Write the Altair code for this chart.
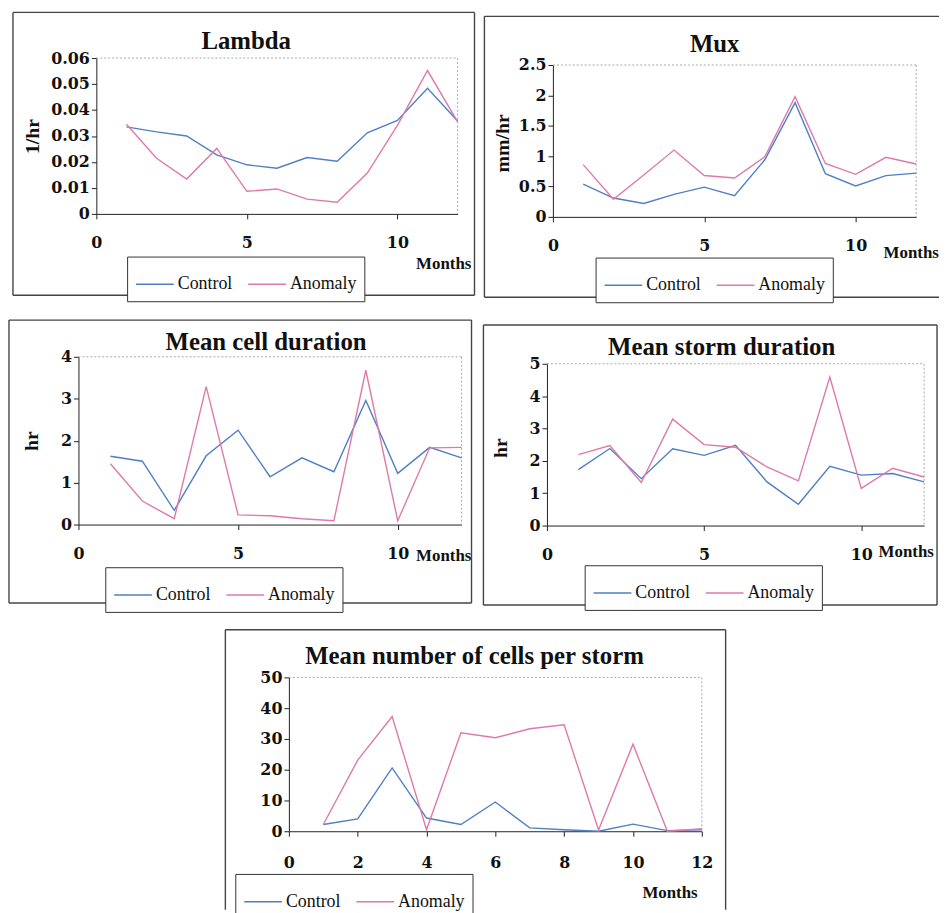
import altair as alt
import pandas as pd

# ---------------- data ----------------
months = list(range(1, 13))
series_names = ["Control", "Anomaly"]

lambda_control = [0.0335, 0.0316, 0.0300, 0.0227, 0.0189, 0.0176, 0.0217, 0.0203, 0.0312, 0.0360, 0.0484, 0.0358]
lambda_anomaly = [0.0345, 0.0214, 0.0134, 0.0252, 0.0087, 0.0096, 0.0057, 0.0045, 0.0157, 0.0341, 0.0552, 0.0354]

mux_control = [0.54, 0.31, 0.22, 0.37, 0.49, 0.35, 0.94, 1.88, 0.71, 0.51, 0.68, 0.72]
mux_anomaly = [0.86, 0.29, 0.69, 1.10, 0.68, 0.64, 0.99, 1.98, 0.88, 0.70, 0.98, 0.87]

cell_control = [1.63, 1.51, 0.34, 1.64, 2.25, 1.14, 1.59, 1.26, 2.96, 1.22, 1.84, 1.59]
cell_anomaly = [1.45, 0.56, 0.14, 3.29, 0.23, 0.21, 0.14, 0.09, 3.68, 0.09, 1.83, 1.84]

storm_control = [1.73, 2.38, 1.45, 2.37, 2.17, 2.48, 1.35, 0.66, 1.83, 1.56, 1.61, 1.35]
storm_anomaly = [2.19, 2.47, 1.33, 3.29, 2.50, 2.42, 1.81, 1.38, 4.59, 1.15, 1.77, 1.50]

ncells_control = [2.2, 4.0, 20.6, 4.3, 2.2, 9.5, 1.1, 0.5, 0.0, 2.3, 0.2, 0.5]
ncells_anomaly = [2.2, 23.1, 37.3, 0.5, 32.0, 30.4, 33.3, 34.6, 0.4, 28.3, 0.0, 0.8]

titles = ["Lambda", "Mux", "Mean cell duration", "Mean storm duration", "Mean number of cells per storm"]
y_titles = ["1/hr", "mm/hr", "hr", "hr", ""]
x_title = "Months"

x_ticks_5 = [0, 5, 10]
x_ticks_2 = [0, 2, 4, 6, 8, 10, 12]
y_ticks = [
    [0, 0.01, 0.02, 0.03, 0.04, 0.05, 0.06],
    [0, 0.5, 1, 1.5, 2, 2.5],
    [0, 1, 2, 3, 4],
    [0, 1, 2, 3, 4, 5],
    [0, 10, 20, 30, 40, 50],
]
y_domains = [[0, 0.06], [0, 2.5], [0, 4], [0, 5], [0, 50]]

# ---------------- styling / layout ----------------
W, H = 938, 904
BLUE = "#4f7fc4"
PINK = "#de7aa8"
FRAME = "#444444"
SERIF = "Liberation Serif"
TICKFONT = "DejaVu Serif"

one = pd.DataFrame({"k": [0]})

# panel geometry: plot area (left, right, top, bottom), frame (l, t, r, b, open side),
# title pos, y-title pos, "Months" pos, legend pos, x label padding
panels = [
    dict(plot=(89, 453, 46, 203), frame=(5, 0, 470, 285, None), t=(240, 29), yt=(25, 125),
         m=(439, 254), lg=(120, 246), xpad=16),
    dict(plot=(549, 915, 53, 206), frame=(480, 4, 938, 287, "right"), t=(712, 32), yt=(499, 132),
         m=(910, 242), lg=(592, 247), xpad=16),
    dict(plot=(71, 457, 347, 516), frame=(1, 310, 467, 595, None), t=(260, 332), yt=(24, 432),
         m=(439, 548), lg=(98, 559), xpad=16),
    dict(plot=(543, 923, 354, 517), frame=(479, 315, 936, 597, None), t=(719, 337), yt=(497, 439),
         m=(905, 544), lg=(581, 557), xpad=16),
    dict(plot=(283, 699, 670, 825), frame=(219, 622, 723, 904, "bottom"), t=(470, 648), yt=(0, 0),
         m=(667, 887), lg=(229, 868), xpad=19),
]
series_data = [
    (lambda_control, lambda_anomaly),
    (mux_control, mux_anomaly),
    (cell_control, cell_anomaly),
    (storm_control, storm_anomaly),
    (ncells_control, ncells_anomaly),
]


def seg(x1, y1, x2, y2, color=FRAME, width=1.4, dash=None):
    kw = dict(color=color, strokeWidth=width)
    if dash:
        kw["strokeDash"] = dash
    return alt.Chart(one).mark_rule(**kw).encode(
        x=alt.value(x1), y=alt.value(y1), x2=alt.value(x2), y2=alt.value(y2)
    )


def txt(s, x, y, size, weight="normal", angle=0):
    kw = dict(font=SERIF, fontSize=size, fontWeight=weight, color="#111",
              align="center", baseline="middle")
    if angle:
        kw["angle"] = angle
    return alt.Chart(one).mark_text(**kw).encode(
        x=alt.value(x), y=alt.value(y), text=alt.value(s)
    )


layers = []
for i, p in enumerate(panels):
    pl, pr, pt, pb = p["plot"]
    fl, ft, fr, fb, open_side = p["frame"]
    # outer frame
    layers.append(seg(fl, ft, fl, fb))
    layers.append(seg(fl, ft, fr, ft))
    if open_side != "bottom":
        layers.append(seg(fl, fb, fr, fb))
    if open_side != "right":
        layers.append(seg(fr, ft, fr, fb))
    # dotted plot-area border (top and right)
    layers.append(seg(pl, pt, pr, pt, "#a8a8a8", 1, [2, 2]))
    layers.append(seg(pr, pt, pr, pb, "#a8a8a8", 1, [2, 2]))

    ctrl, anom = series_data[i]
    df = pd.DataFrame({
        "Month": months * 2,
        "Series": ["Control"] * 12 + ["Anomaly"] * 12,
        "Value": ctrl + anom,
    })
    yaxis_kw = dict(values=y_ticks[i], title=None, orient="left", offset=-pl,
                    labelPadding=2, labelFlush=False)
    if i == 0:
        yaxis_kw["labelExpr"] = "datum.value == 0 ? '0' : format(datum.value, '.2f')"
    else:
        yaxis_kw["format"] = "~r"
    xticks = x_ticks_2 if i == 4 else x_ticks_5
    lines = alt.Chart(df).mark_line(strokeWidth=1.4).encode(
        x=alt.X("Month:Q", scale=alt.Scale(domain=[0, 12], nice=False, range=[pl, pr]),
                axis=alt.Axis(values=xticks, title=None, orient="bottom", offset=pb - H,
                              labelPadding=p["xpad"], labelFlush=False, format="~r")),
        y=alt.Y("Value:Q", scale=alt.Scale(domain=y_domains[i], nice=False, range=[pb, pt]),
                axis=alt.Axis(**yaxis_kw)),
        color=alt.Color("Series:N",
                        scale=alt.Scale(domain=series_names, range=[BLUE, PINK]),
                        legend=alt.Legend(orient="none", legendX=p["lg"][0], legendY=p["lg"][1],
                                          direction="horizontal", title=None,
                                          strokeColor="#333", fillColor="white",
                                          padding=8, symbolType="stroke", symbolSize=1444,
                                          symbolStrokeWidth=1.5, labelFont=SERIF,
                                          labelFontSize=18, labelColor="#111",
                                          columnPadding=12, labelOffset=3)),
    )
    layers.append(lines)
    layers.append(txt(titles[i], p["t"][0], p["t"][1], 25, "bold"))
    layers.append(txt(x_title, p["m"][0], p["m"][1], 17, "bold"))
    if y_titles[i]:
        layers.append(txt(y_titles[i], p["yt"][0], p["yt"][1], 20, "bold", 270))

chart = alt.layer(*layers).resolve_scale(
    x="independent", y="independent", color="independent"
).resolve_axis(
    x="independent", y="independent"
).resolve_legend(
    color="independent"
).properties(
    width=W, height=H, padding=0, background="white"
).configure_axis(
    domainColor="#222", domainWidth=1, tickColor="#222", tickWidth=1, tickSize=5,
    labelFont=TICKFONT, labelFontSize=16, labelFontWeight="bold", labelColor="#111",
    grid=False
).configure_view(
    stroke="transparent"
)

chart.save("out.html", embed_options={"renderer": "svg", "actions": False})
